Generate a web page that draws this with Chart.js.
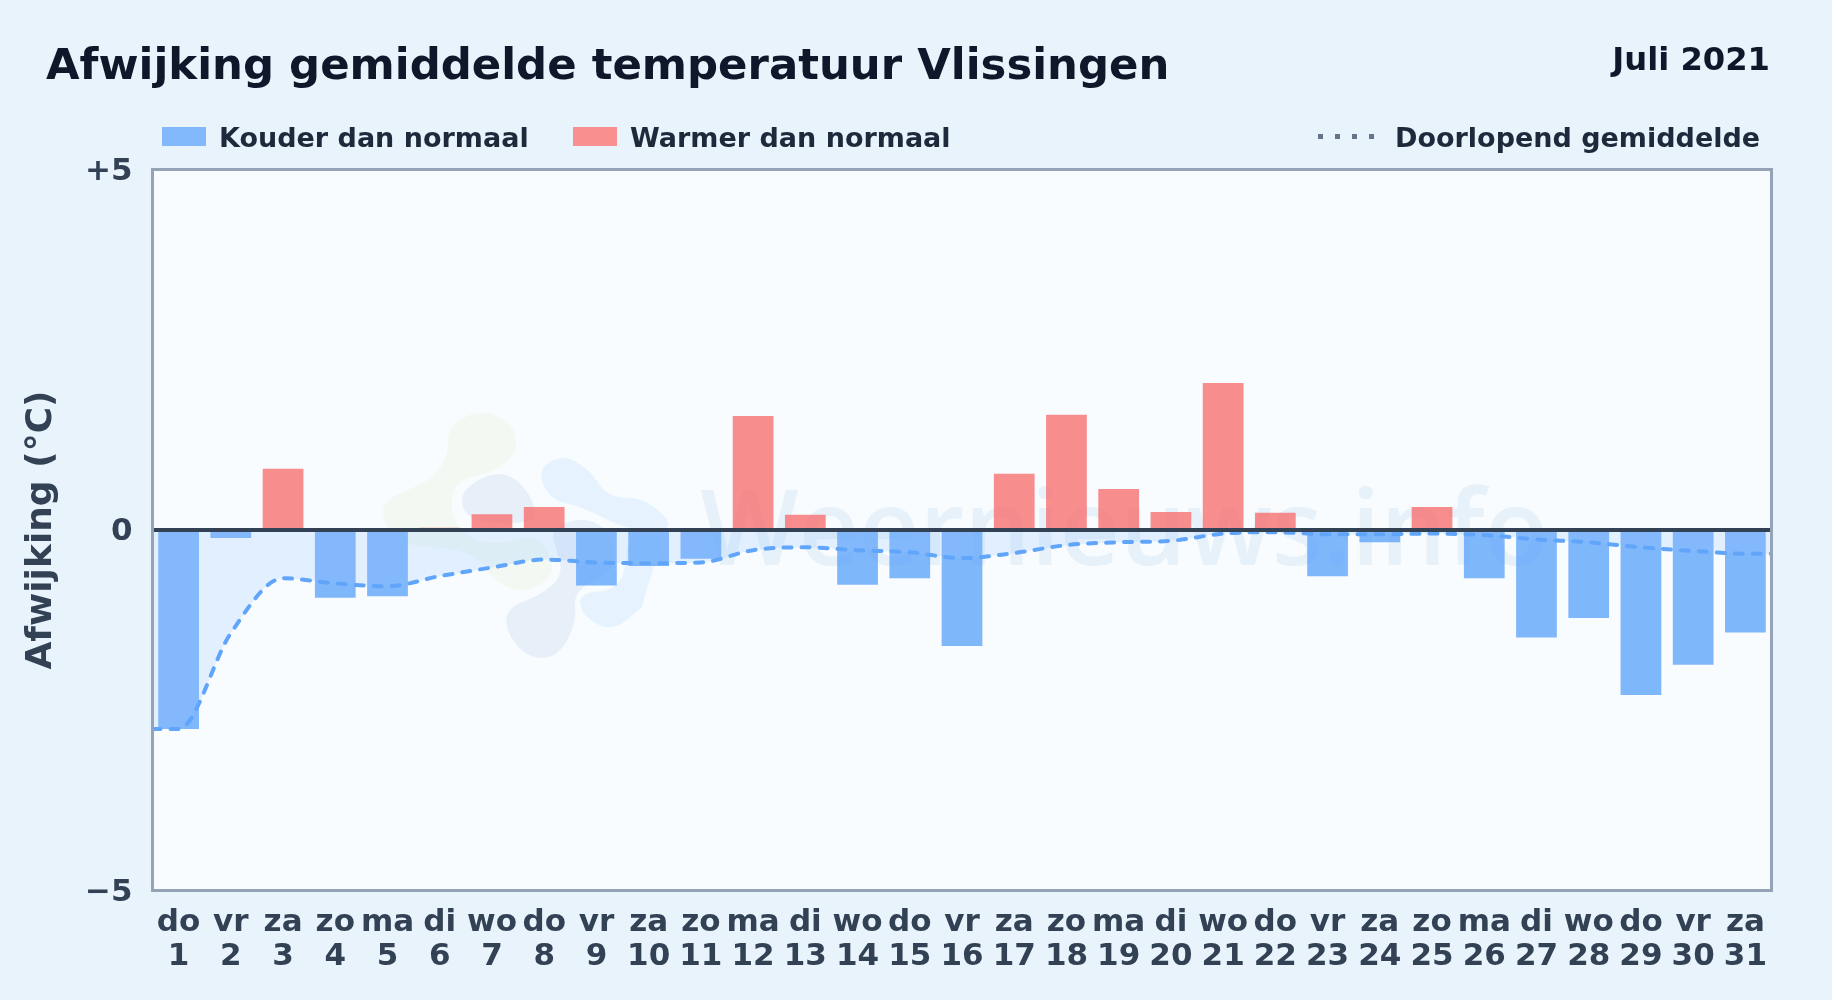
<!DOCTYPE html>
<html lang="nl">

<head>
    <meta charset="UTF-8">
    <title>Afwijking gemiddelde temperatuur Vlissingen</title>
    <style>
        html, body { margin: 0; padding: 0; background: #e8f3fc; }
        body { width: 1832px; height: 1000px; overflow: hidden; position: relative; font-family: "DejaVu Sans", sans-serif; font-weight: bold; }
        #wrap { position: absolute; left: 0; top: 0; width: 1832px; height: 1000px; }
        .txt { position: absolute; white-space: nowrap; line-height: 1; }
        #title { left: 46px; top: 43px; font-size: 43.4px; color: #0f172a; }
        #month { right: 62px; top: 43px; font-size: 32.2px; color: #0f172a; }
        .leg { top: 123.5px; font-size: 27px; color: #1e293b; }
        .swatch { position: absolute; top: 127px; width: 44px; height: 19px; }
        #dots { position: absolute; left: 1318px; top: 134px; width: 56px; height: 5px;
            background: repeating-linear-gradient(90deg, #64748b 0 5px, transparent 5px 17px); }
    </style>
</head>

<body>
    <div id="wrap"><canvas id="myChart"></canvas></div>

    <div class="txt" id="title">Afwijking gemiddelde temperatuur Vlissingen</div>
    <div class="txt" id="month">Juli 2021</div>
    <div class="swatch" style="left: 162px; background: #82b8fc;"></div>
    <div class="txt leg" style="left: 219px;">Kouder dan normaal</div>
    <div class="swatch" style="left: 573px; background: #f98f8f;"></div>
    <div class="txt leg" style="left: 630px;">Warmer dan normaal</div>
    <div id="dots"></div>
    <div class="txt leg" style="left: 1395px;">Doorlopend gemiddelde</div>

    <script src="https://cdn.jsdelivr.net/npm/chart.js"></script>
    <script>
        const weekdays = ["do", "vr", "za", "zo", "ma", "di", "wo", "do", "vr", "za", "zo", "ma", "di", "wo", "do", "vr",
            "za", "zo", "ma", "di", "wo", "do", "vr", "za", "zo", "ma", "di", "wo", "do", "vr", "za"];
        const days = ["1", "2", "3", "4", "5", "6", "7", "8", "9", "10", "11", "12", "13", "14", "15", "16",
            "17", "18", "19", "20", "21", "22", "23", "24", "25", "26", "27", "28", "29", "30", "31"];

        const deviation = [-2.76, -0.11, 0.85, -0.94, -0.92, 0.03, 0.22, 0.32, -0.77, -0.5, -0.4, 1.58, 0.21, -0.76, -0.67, -1.61,
            0.78, 1.6, 0.57, 0.25, 2.04, 0.24, -0.64, -0.17, 0.32, -0.67, -1.49, -1.22, -2.29, -1.87, -1.42];

        const runningMean = [-2.76, -1.43, -0.67, -0.74, -0.78, -0.64, -0.52, -0.41, -0.45, -0.46, -0.45, -0.28, -0.24, -0.28, -0.31, -0.39,
            -0.32, -0.21, -0.17, -0.15, -0.05, -0.03, -0.06, -0.06, -0.05, -0.07, -0.13, -0.17, -0.24, -0.29, -0.33];

        const yTicks = { "5": "+5", "0": "0", "-5": "\u22125" };

        const v_labels = weekdays.map((d, i) => [d, days[i]]);

        // lijn loopt door tot de randen van het plotvlak
        const v_line = [{ x: 0.5, y: runningMean[0] }];
        runningMean.forEach((v, i) => v_line.push({ x: i + 1, y: v }));
        v_line.push({ x: 31.5, y: runningMean[30] });

        // logo watermerk, pagina-pixels
        const logoBlobs = [
            ["#f3f9f2", [[448, 426], [483, 408], [515, 426], [517, 453], [493, 473], [457, 480], [450, 503], [457, 530], [490, 547], [537, 533], [555, 563], [547, 583], [517, 593], [490, 577], [483, 560], [450, 547], [407, 547], [380, 520], [387, 497], [430, 482], [448, 457]]],
            ["#e7eff8", [[461, 490], [497, 470], [523, 483], [538, 513], [530, 523], [483, 523], [463, 513]]],
            ["#e7eff8", [[550, 530], [583, 516], [613, 533], [617, 570], [573, 590], [577, 623], [557, 658], [527, 658], [505, 630], [508, 607], [537, 597], [563, 577], [557, 550]]],
            ["#e6f3fe", [[537, 470], [563, 454], [590, 470], [607, 497], [643, 498], [667, 517], [670, 530], [627, 530], [583, 507], [550, 500]]],
            ["#e6f3fe", [[627, 537], [667, 533], [650, 577], [642, 607], [642, 607], [613, 632], [583, 617], [578, 593], [617, 590], [627, 563]]]
        ];

        function blob(ctx, pts, color) {
            ctx.beginPath();
            const n = pts.length;
            ctx.moveTo((pts[0][0] + pts[n - 1][0]) / 2, (pts[0][1] + pts[n - 1][1]) / 2);
            for (let i = 0; i < n; i++) {
                const a = pts[i], b = pts[(i + 1) % n];
                ctx.quadraticCurveTo(a[0], a[1], (a[0] + b[0]) / 2, (a[1] + b[1]) / 2);
            }
            ctx.closePath();
            ctx.fillStyle = color;
            ctx.fill();
        }

        const plotBox = {
            id: 'plotBox',
            beforeDatasetsDraw(chart) {
                const { ctx, chartArea: a } = chart;
                ctx.save();
                ctx.fillStyle = '#f8fcff';
                ctx.fillRect(a.left, a.top, a.width, a.height);
                logoBlobs.forEach(b => blob(ctx, b[1], b[0]));
                ctx.fillStyle = '#e7f1fa';
                ctx.font = '600 104.5px "Open Sans"';
                ctx.textBaseline = 'alphabetic';
                ctx.fillText('Weernieuws.info', 700, 565);
                ctx.restore();
            },
            afterDraw(chart) {
                const { ctx, chartArea: a } = chart;
                ctx.save();
                ctx.strokeStyle = '#94a3b8';
                ctx.lineWidth = 3;
                ctx.strokeRect(a.left, a.top, a.width, a.height);
                ctx.restore();
            }
        };

        const ctx = document.getElementById('myChart');

        new Chart(ctx, {
            data: {
                labels: v_labels,
                datasets: [{
                    type: 'line',
                    label: 'Doorlopend gemiddelde',
                    data: v_line,
                    xAxisID: 'xLine',
                    order: 0,
                    borderColor: '#60a5fa',
                    borderWidth: 4,
                    borderDash: [8, 10],
                    borderCapStyle: 'round',
                    cubicInterpolationMode: 'monotone',
                    pointRadius: 0,
                    fill: { value: 0 },
                    backgroundColor: 'rgba(147,197,253,0.22)'
                }, {
                    type: 'bar',
                    label: 'Afwijking',
                    data: deviation,
                    order: 1,
                    grouped: false,
                    barPercentage: 0.78,
                    categoryPercentage: 1,
                    backgroundColor: c => c.raw < 0 ? 'rgba(96,165,250,0.8)' : 'rgba(248,113,113,0.8)'
                }]
            },
            options: {
                responsive: true,
                maintainAspectRatio: false,
                animation: false,
                layout: { padding: { top: 169.5, right: 60.5, left: 0, bottom: 0 } },
                scales: {
                    x: {
                        afterFit: s => { s.height = 109.5; },
                        grid: { display: false },
                        border: { display: false },
                        ticks: {
                            autoSkip: false,
                            maxRotation: 0,
                            padding: 8,
                            color: '#334155',
                            font: { family: '"DejaVu Sans"', size: 31, weight: 'bold', lineHeight: 1.09 }
                        }
                    },
                    xLine: { type: 'linear', display: false, min: 0.5, max: 31.5 },
                    y: {
                        min: -5,
                        max: 5,
                        afterFit: s => { s.width = 152.5; },
                        afterBuildTicks: s => { s.ticks = [{ value: -5 }, { value: 0 }, { value: 5 }]; },
                        grid: {
                            z: 1,
                            drawTicks: false,
                            color: c => c.tick.value === 0 ? '#334155' : 'rgba(0,0,0,0)',
                            lineWidth: 4
                        },
                        border: { display: false },
                        title: {
                            display: true,
                            text: 'Afwijking (°C)',
                            color: '#334155',
                            padding: { top: 20, bottom: 0 },
                            font: { family: '"DejaVu Sans"', size: 36, weight: 'bold' }
                        },
                        ticks: {
                            padding: 20,
                            labelOffset: 2,
                            color: '#334155',
                            callback: v => yTicks[v],
                            font: { family: '"DejaVu Sans"', size: 31, weight: 'bold' }
                        }
                    }
                },
                plugins: {
                    legend: { display: false },
                    tooltip: { enabled: false }
                }
            },
            plugins: [plotBox]
        });
    </script>
</body>

</html>
